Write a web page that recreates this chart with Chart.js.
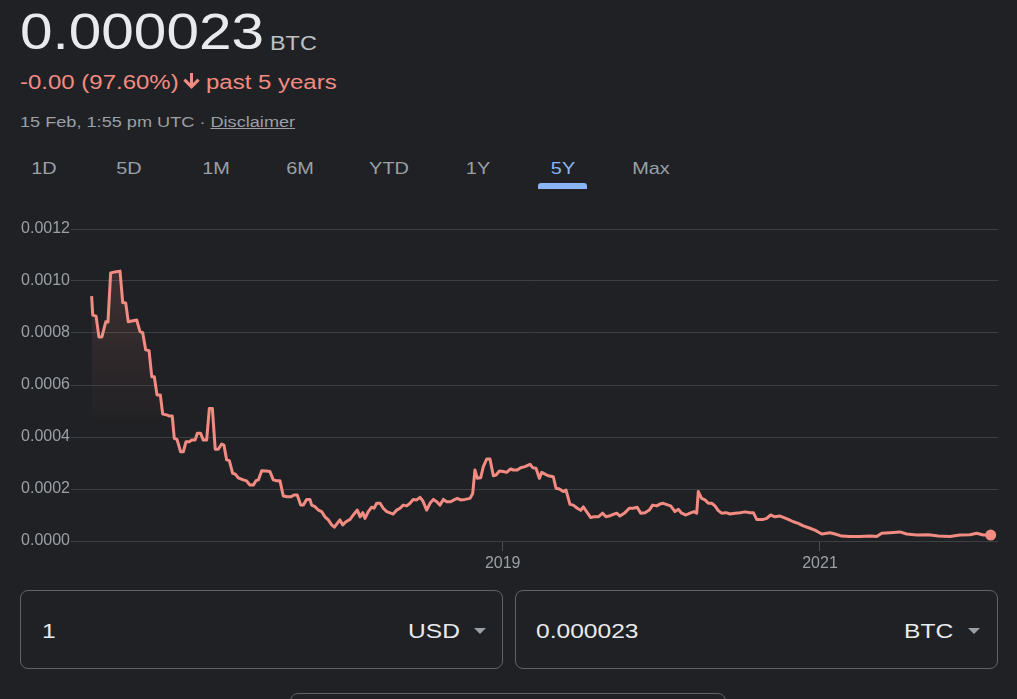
<!DOCTYPE html>
<html>
<head>
<meta charset="utf-8">
<script src="https://cdn.jsdelivr.net/npm/chart.js@4.4.1/dist/chart.umd.min.js"></script>
<style>
  body { margin:0; background:#202124; width:1017px; height:699px; overflow:hidden; position:relative;
         font-family: Arial, "Liberation Sans", sans-serif; }
  .t { position:absolute; white-space:nowrap; line-height:1; transform:scaleX(1.17); transform-origin:0 0; }
  .tab { position:absolute; white-space:nowrap; line-height:1; font-size:17px; color:#9aa0a6; top:160px;
         transform:translateX(-50%) scaleX(1.17); transform-origin:50% 0; }
  .box { position:absolute; border:1px solid #5f6368; border-radius:8px; box-sizing:border-box; }
  .tri { position:absolute; width:0; height:0; border-left:6px solid transparent; border-right:6px solid transparent;
         border-top:6px solid #9aa0a6; }
  #rateChart { position:absolute; left:0; top:209px; }
</style>
</head>
<body>
<div class="t" style="left:20px;top:7px;font-size:50px;color:#e8eaed;">0.000023</div>
<div class="t" style="left:270px;top:33px;font-size:20px;color:#bdc1c6;">BTC</div>

<div class="t" style="left:20px;top:72px;font-size:20.5px;color:#f28b82;">-0.00 (97.60%)</div>
<svg style="position:absolute;left:182px;top:73px" width="19" height="18" viewBox="0 0 19 18">
  <path d="M8 0h3v10l4.5-4.5 2.2 2.2L9.5 16 1.3 7.7l2.2-2.2L8 10z" fill="#f28b82"/>
</svg>
<div class="t" style="left:206px;top:72px;font-size:20.5px;color:#f28b82;">past 5 years</div>

<div class="t" style="left:20px;top:114px;font-size:15.5px;color:#9aa0a6;">15 Feb, 1:55 pm UTC · <span style="text-decoration:underline;">Disclaimer</span></div>

<div class="tab" style="left:44px;">1D</div>
<div class="tab" style="left:129px;">5D</div>
<div class="tab" style="left:216px;">1M</div>
<div class="tab" style="left:300px;">6M</div>
<div class="tab" style="left:389px;">YTD</div>
<div class="tab" style="left:478px;">1Y</div>
<div class="tab" style="left:563px;color:#8ab4f8;">5Y</div>
<div class="tab" style="left:651px;">Max</div>
<div style="position:absolute;left:538px;top:183px;width:49px;height:6px;background:#8ab4f8;border-radius:3px 3px 0 0;"></div>

<canvas id="rateChart" width="1017" height="372"></canvas>

<div class="box" style="left:20px;top:590px;width:483px;height:79px;"></div>
<div class="box" style="left:515px;top:590px;width:483px;height:79px;"></div>
<div class="t" style="left:42px;top:620px;font-size:21px;color:#e8eaed;">1</div>
<div class="t" style="left:408px;top:620px;font-size:21px;color:#e8eaed;">USD</div>
<div class="tri" style="left:474px;top:628px;"></div>
<div class="t" style="left:536px;top:620px;font-size:21px;color:#e8eaed;">0.000023</div>
<div class="t" style="left:904px;top:620px;font-size:21px;color:#e8eaed;">BTC</div>
<div class="tri" style="left:968px;top:628px;"></div>
<div class="box" style="left:290px;top:693px;width:436px;height:30px;"></div>

<script>
// BTC per 1 USD, 5 year history (fractional year, rate)
const years = [
  2016.409, 2016.416, 2016.437, 2016.455, 2016.474, 2016.498, 2016.512, 2016.529, 2016.556, 2016.588,
  2016.605, 2016.624, 2016.640, 2016.693, 2016.714, 2016.731, 2016.750, 2016.771, 2016.788, 2016.804,
  2016.821, 2016.842, 2016.857, 2016.882, 2016.897, 2016.917, 2016.930, 2016.947, 2016.970, 2016.987,
  2017.004, 2017.025, 2017.040, 2017.061, 2017.075, 2017.096, 2017.113, 2017.134, 2017.151, 2017.170,
  2017.188, 2017.207, 2017.229, 2017.243, 2017.260, 2017.277, 2017.298, 2017.313, 2017.333, 2017.365,
  2017.386, 2017.407, 2017.428, 2017.445, 2017.460, 2017.481, 2017.508, 2017.533, 2017.554, 2017.575,
  2017.596, 2017.617, 2017.642, 2017.666, 2017.685, 2017.705, 2017.727, 2017.743, 2017.765, 2017.785,
  2017.796, 2017.817, 2017.838, 2017.859, 2017.880, 2017.901, 2017.922, 2017.939, 2017.957, 2017.974,
  2017.992, 2018.012, 2018.038, 2018.058, 2018.084, 2018.101, 2018.118, 2018.132, 2018.153, 2018.174,
  2018.189, 2018.206, 2018.227, 2018.247, 2018.269, 2018.294, 2018.310, 2018.332, 2018.353, 2018.373,
  2018.395, 2018.416, 2018.436, 2018.458, 2018.479, 2018.496, 2018.521, 2018.542, 2018.563, 2018.584,
  2018.605, 2018.626, 2018.647, 2018.672, 2018.693, 2018.714, 2018.735, 2018.762, 2018.794, 2018.811,
  2018.825, 2018.840, 2018.861, 2018.878, 2018.899, 2018.920, 2018.941, 2018.958, 2018.979, 2019.004,
  2019.025, 2019.050, 2019.067, 2019.092, 2019.113, 2019.141, 2019.172, 2019.189, 2019.210, 2019.231,
  2019.246, 2019.267, 2019.287, 2019.319, 2019.336, 2019.357, 2019.382, 2019.399, 2019.424, 2019.445,
  2019.470, 2019.492, 2019.508, 2019.529, 2019.555, 2019.575, 2019.603, 2019.630, 2019.651, 2019.676,
  2019.687, 2019.719, 2019.739, 2019.771, 2019.798, 2019.823, 2019.848, 2019.870, 2019.897, 2019.924,
  2019.945, 2019.971, 2019.991, 2020.012, 2020.044, 2020.059, 2020.086, 2020.107, 2020.128, 2020.155,
  2020.181, 2020.206, 2020.223, 2020.233, 2020.254, 2020.275, 2020.296, 2020.317, 2020.338, 2020.359,
  2020.380, 2020.408, 2020.433, 2020.464, 2020.496, 2020.527, 2020.559, 2020.580, 2020.601, 2020.643,
  2020.664, 2020.689, 2020.716, 2020.748, 2020.769, 2020.800, 2020.832, 2020.863, 2020.895, 2020.937,
  2020.968, 2021.011, 2021.063, 2021.095, 2021.137, 2021.189, 2021.252, 2021.315, 2021.357, 2021.389,
  2021.441, 2021.504, 2021.546, 2021.610, 2021.683, 2021.746, 2021.819, 2021.882, 2021.945, 2021.988,
  2022.029, 2022.076
];
const rates = [
  0.000942, 0.000869, 0.000865, 0.000785, 0.000785, 0.000843, 0.000842, 0.001031, 0.001035, 0.001038,
  0.000917, 0.000915, 0.000843, 0.000850, 0.000805, 0.000801, 0.000735, 0.000732, 0.000632, 0.000632,
  0.000562, 0.000562, 0.000488, 0.000485, 0.000481, 0.000481, 0.000395, 0.000391, 0.000343, 0.000343,
  0.000382, 0.000382, 0.000388, 0.000388, 0.000414, 0.000414, 0.000388, 0.000388, 0.000510, 0.000510,
  0.000353, 0.000353, 0.000373, 0.000369, 0.000312, 0.000309, 0.000260, 0.000258, 0.000243, 0.000235,
  0.000231, 0.000215, 0.000215, 0.000232, 0.000235, 0.000270, 0.000269, 0.000267, 0.000235, 0.000232,
  0.000232, 0.000173, 0.000170, 0.000170, 0.000177, 0.000177, 0.000138, 0.000138, 0.000160, 0.000160,
  0.000138, 0.000132, 0.000119, 0.000113, 0.000093, 0.000081, 0.000062, 0.000053, 0.000068, 0.000081,
  0.000062, 0.000074, 0.000083, 0.000100, 0.000119, 0.000093, 0.000109, 0.000087, 0.000113, 0.000130,
  0.000126, 0.000145, 0.000145, 0.000126, 0.000113, 0.000107, 0.000104, 0.000119, 0.000126, 0.000138,
  0.000135, 0.000145, 0.000160, 0.000158, 0.000168, 0.000155, 0.000119, 0.000145, 0.000160, 0.000151,
  0.000138, 0.000160, 0.000151, 0.000151, 0.000158, 0.000164, 0.000158, 0.000160, 0.000164, 0.000183,
  0.000273, 0.000241, 0.000243, 0.000286, 0.000315, 0.000315, 0.000251, 0.000254, 0.000269, 0.000267,
  0.000264, 0.000277, 0.000273, 0.000273, 0.000282, 0.000286, 0.000295, 0.000282, 0.000280, 0.000241,
  0.000264, 0.000257, 0.000251, 0.000247, 0.000203, 0.000200, 0.000190, 0.000196, 0.000141, 0.000138,
  0.000126, 0.000118, 0.000131, 0.000113, 0.000090, 0.000093, 0.000093, 0.000107, 0.000093, 0.000097,
  0.000100, 0.000107, 0.000096, 0.000109, 0.000126, 0.000126, 0.000130, 0.000107, 0.000109, 0.000119,
  0.000138, 0.000135, 0.000142, 0.000145, 0.000138, 0.000135, 0.000113, 0.000122, 0.000107, 0.000100,
  0.000107, 0.000113, 0.000107, 0.000190, 0.000164, 0.000158, 0.000145, 0.000145, 0.000135, 0.000117,
  0.000107, 0.000109, 0.000104, 0.000107, 0.000109, 0.000112, 0.000109, 0.000109, 0.000083, 0.000083,
  0.000087, 0.000100, 0.000093, 0.000096, 0.000091, 0.000083, 0.000074, 0.000068, 0.000058, 0.000049,
  0.000042, 0.000027, 0.000032, 0.000027, 0.000019, 0.000017, 0.000017, 0.000019, 0.000017, 0.000030,
  0.000032, 0.000035, 0.000027, 0.000023, 0.000024, 0.000019, 0.000017, 0.000023, 0.000024, 0.000030,
  0.000023, 0.000023
];
const yTickValues = [0, 0.0002, 0.0004, 0.0006, 0.0008, 0.0010, 0.0012];
const xTickYears = [2019, 2021];

const lineColor = "#f28b82";
const tickFont = { family: "Arial", size: 16 };

// soft red fade under the early part of the line
const fillGradient = (ctx) => {
    const chart = ctx.chart;
    if (!chart.chartArea) return "transparent";
    const yScale = chart.scales.y;
    const g = chart.ctx.createLinearGradient(0, yScale.getPixelForValue(0.00105), 0, yScale.getPixelForValue(0.00043));
    g.addColorStop(0, "rgba(242,139,130,0.15)");
    g.addColorStop(0.5, "rgba(242,139,130,0.08)");
    g.addColorStop(1, "rgba(242,139,130,0)");
    return g;
};

new Chart(document.getElementById("rateChart"), {
    type: "line",
    data: {
        datasets: [{
            data: years.map((x, i) => ({ x: x, y: rates[i] })),
            borderColor: lineColor,
            borderWidth: 3,
            borderJoinStyle: "round",
            tension: 0,
            fill: "origin",
            backgroundColor: fillGradient,
            pointRadius: (ctx) => ctx.dataIndex === rates.length - 1 ? 5.5 : 0,
            pointBackgroundColor: lineColor,
            pointBorderWidth: 0,
            pointHoverRadius: 0
        }]
    },
    options: {
        responsive: false,
        animation: false,
        events: [],
        layout: { padding: { left: 20, right: 19, top: 20, bottom: 0 } },
        plugins: { legend: { display: false }, tooltip: { enabled: false } },
        scales: {
            x: {
                type: "linear",
                min: 2016.279,
                max: 2022.122,
                border: { display: false },
                grid: { drawOnChartArea: false, tickLength: 10, color: "#4a4d51" },
                ticks: { color: "#9aa0a6", font: tickFont, padding: 3, maxRotation: 0, callback: (v) => String(v) },
                afterBuildTicks: (s) => { s.ticks = xTickYears.map(v => ({ value: v })); },
                afterFit: (s) => { s.height = 40; }
            },
            y: {
                min: 0,
                max: 0.0012,
                border: { display: false },
                grid: { color: "#3c4043", drawTicks: false },
                ticks: { color: "#9aa0a6", font: tickFont, padding: 1, callback: (v) => v.toFixed(4) },
                afterBuildTicks: (s) => { s.ticks = yTickValues.map(v => ({ value: v })); },
                afterFit: (s) => { s.width = 51; }
            }
        }
    }
});
</script>
</body>
</html>
